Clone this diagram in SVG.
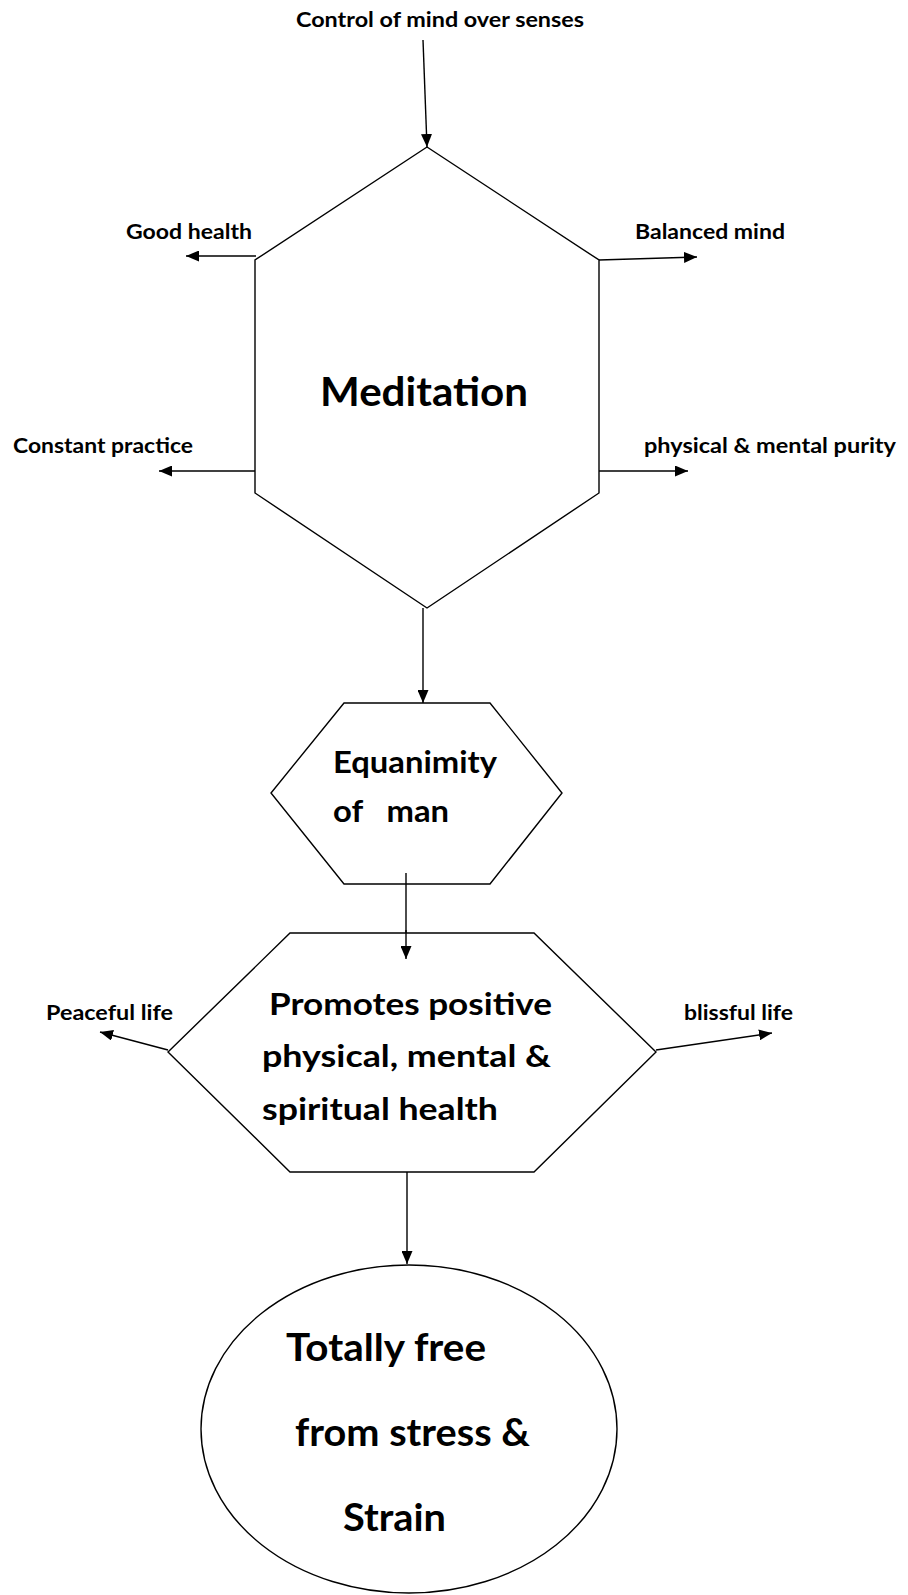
<svg xmlns="http://www.w3.org/2000/svg" width="908" height="1595" viewBox="0 0 908 1595">
  <style>
    .shape { fill: #ffffff; stroke: #000000; stroke-width: 1.4; }
    .link { fill: none; stroke: #000000; stroke-width: 1.4; marker-end: url(#head); }
    text { font-family: Lato, "Open Sans", "Liberation Sans", sans-serif; font-weight: bold; fill: #000000; }
    .lbl { font-size: 21px; }
    .mid { font-size: 30px; }
    .big { font-size: 38px; }
    .title { font-size: 41px; }
  </style>
  <defs>
    <marker id="head" markerUnits="userSpaceOnUse" viewBox="0 0 13 11" refX="13" refY="5.5" markerWidth="13" markerHeight="11" orient="auto">
      <path d="M0,0 L13,5.5 L0,11 z" fill="#000000"/>
    </marker>
  </defs>

  <rect width="908" height="1595" fill="#ffffff"/>

  <!-- connectors -->
  <g id="connectors">
    <line class="link" x1="423" y1="40" x2="427" y2="147"/>
    <line class="link" x1="256" y1="256" x2="186" y2="256"/>
    <line class="link" x1="599" y1="260" x2="697" y2="257"/>
    <line class="link" x1="255" y1="471" x2="159" y2="471"/>
    <line class="link" x1="599" y1="471" x2="688" y2="471"/>
    <line class="link" x1="423" y1="608" x2="423" y2="703"/>
    <line class="link" x1="406" y1="873" x2="406" y2="959"/>
    <line class="link" x1="168" y1="1050" x2="100" y2="1032"/>
    <line class="link" x1="656" y1="1050" x2="772" y2="1033"/>
    <line class="link" x1="407" y1="1172" x2="407" y2="1264"/>
  </g>

  <!-- main hexagon -->
  <g id="meditation">
    <polygon class="shape" points="427,147 599,260 599,493 427,608 255,493 255,260"/>
    <text class="title" x="320" y="406" textLength="208" lengthAdjust="spacingAndGlyphs">Meditation</text>
  </g>

  <g id="equanimity">
    <polygon class="shape" points="344,703 490,703 562,793 490,884 344,884 271,793"/>
    <text class="mid" x="333" y="773" textLength="164" lengthAdjust="spacingAndGlyphs">Equanimity</text>
    <text class="mid" x="333" y="822" textLength="116" lengthAdjust="spacingAndGlyphs" xml:space="preserve">of   man</text>
  </g>

  <!-- vertical line from the equanimity box continues over its bottom edge -->
  <line x1="406" y1="873" x2="406" y2="884" stroke="#000000" stroke-width="1.4"/>

  <g id="promotes">
    <polygon class="shape" points="290,933 534,933 656,1052 534,1172 290,1172 168,1052"/>
    <text class="mid" x="269" y="1015" textLength="283" lengthAdjust="spacingAndGlyphs">Promotes positive</text>
    <text class="mid" x="262" y="1067" textLength="289" lengthAdjust="spacingAndGlyphs">physical, mental &amp;</text>
    <text class="mid" x="262" y="1120" textLength="236" lengthAdjust="spacingAndGlyphs">spiritual health</text>
  </g>

  <!-- incoming arrow drawn on top of the promotes box -->
  <line class="link" x1="406" y1="930" x2="406" y2="959"/>

  <g id="stress-free">
    <ellipse class="shape" cx="409" cy="1429" rx="208" ry="164"/>
    <text class="big" x="286" y="1361" textLength="200" lengthAdjust="spacingAndGlyphs">Totally free</text>
    <text class="big" x="295" y="1446" textLength="235" lengthAdjust="spacingAndGlyphs">from stress &amp;</text>
    <text class="big" x="343" y="1531" textLength="103" lengthAdjust="spacingAndGlyphs">Strain</text>
  </g>

  <!-- outer labels -->
  <g id="label-control">
    <text class="lbl" x="296" y="27" textLength="288" lengthAdjust="spacingAndGlyphs">Control of mind over senses</text>
  </g>
  <g id="label-good-health">
    <text class="lbl" x="126" y="239" textLength="126" lengthAdjust="spacingAndGlyphs">Good health</text>
  </g>
  <g id="label-balanced-mind">
    <text class="lbl" x="635" y="239" textLength="150" lengthAdjust="spacingAndGlyphs">Balanced mind</text>
  </g>
  <g id="label-constant-practice">
    <text class="lbl" x="13" y="453" textLength="180" lengthAdjust="spacingAndGlyphs">Constant practice</text>
  </g>
  <g id="label-purity">
    <text class="lbl" x="644" y="453" textLength="252" lengthAdjust="spacingAndGlyphs">physical &amp; mental purity</text>
  </g>
  <g id="label-peaceful">
    <text class="lbl" x="46" y="1020" textLength="127" lengthAdjust="spacingAndGlyphs">Peaceful life</text>
  </g>
  <g id="label-blissful">
    <text class="lbl" x="684" y="1020" textLength="109" lengthAdjust="spacingAndGlyphs">blissful life</text>
  </g>
</svg>
